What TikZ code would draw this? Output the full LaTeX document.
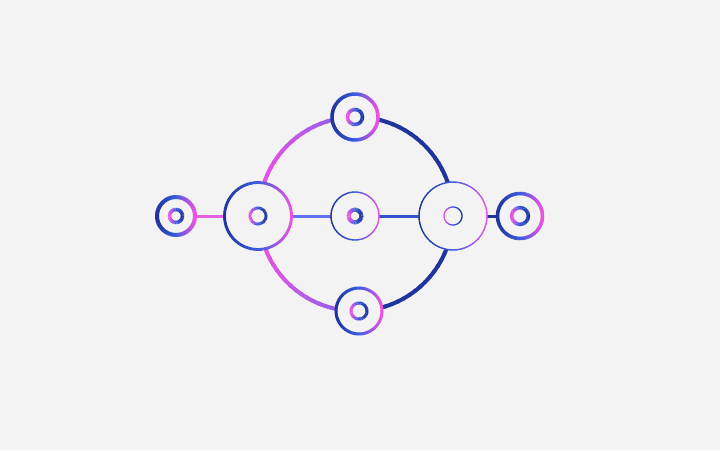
\documentclass[tikz,border=0pt]{standalone}
\usetikzlibrary{calc}
\usetikzlibrary{positioning}

\definecolor{bg}{RGB}{243,243,243}
\definecolor{ringnavy}{RGB}{32,52,158}
\definecolor{ringblue}{RGB}{58,92,222}
\definecolor{ringpink}{RGB}{236,82,226}
\definecolor{ringviolet}{RGB}{125,100,232}
\definecolor{linkpink}{RGB}{228,98,226}
\definecolor{linkblue}{RGB}{98,112,238}

% ring with a navy - blue - pink stroke, #4 = 1 (pink right) or -1 (pink left)
\newcommand{\gradring}[4]{%
  \foreach \a in {0,6,...,354}{
    \pgfmathsetmacro\t{50+50*#4*cos(\a+3)}
    \ifdim\t pt<50pt
      \pgfmathsetmacro\p{max(0,min(100,2*\t))}
      \colorlet{segcol}{ringblue!\p!ringnavy}
    \else
      \pgfmathsetmacro\p{max(0,min(100,2*\t-100))}
      \colorlet{segcol}{ringpink!\p!ringblue}
    \fi
    \draw[line width=#3, segcol] ($(#1)+(\a:#2)$) arc[start angle=\a, end angle=\a+7, radius=#2];
  }}

\tikzset{
  hub/.style={circle, fill=bg, inner sep=0pt, outer sep=0pt},
  link/.style={line width=3pt}
}

\begin{document}
\begin{tikzpicture}[x=1pt,y=-1pt]

  \fill[bg] (0,0) rectangle (720,450);
  \useasboundingbox (0,0) rectangle (720,450);

  % big ring
  \coordinate (c) at (356,214);
  \foreach \a in {0,4,...,356}{
    \pgfmathsetmacro\cs{cos(\a+2)}
    \ifdim\cs pt<0pt
      \pgfmathsetmacro\p{max(0,min(100,100*abs(\cs)))}
      \colorlet{segcol}{ringpink!\p!ringviolet}
    \else
      \colorlet{segcol}{ringnavy}
    \fi
    \draw[line width=4pt, segcol] ($(c)+(\a:97)$) arc[start angle=\a, end angle=\a+5, radius=97];
  }

  % nodes
  \foreach \name/\x/\y/\r in {fl/176/216/19, lb/258/216/33.5, mid/355/216/24, rb/453/216/34,
                              fr/520/216/22.5, top/355/117/23, bot/359/311/23} {
    \node[hub, minimum size=2*\r] (\name) at (\x,\y) {};
  }

  % links
  \draw[link, linkpink] (fl) -- (lb);
  \draw[link, linkblue] (lb) -- (mid);
  \draw[link, ringblue!75!ringnavy] (mid) -- (rb);
  \draw[link, ringnavy] (rb) -- (fr);

  % rings of the nodes
  \foreach \name/\ro/\wo/\ri/\wi in {fl/19/4pt/6.5/3.5pt, lb/33.5/2.8pt/8/2.8pt, mid/24/1.4pt/6.3/4pt,
                                     rb/34/1.4pt/9/1.3pt, fr/22.5/3.5pt/8.3/3.5pt,
                                     top/23/3.5pt/7.5/3.5pt, bot/23/3pt/8/3pt} {
    \gradring{\name}{\ro}{\wo}{1}
    \gradring{\name}{\ri}{\wi}{-1}
  }

\end{tikzpicture}
\end{document}
